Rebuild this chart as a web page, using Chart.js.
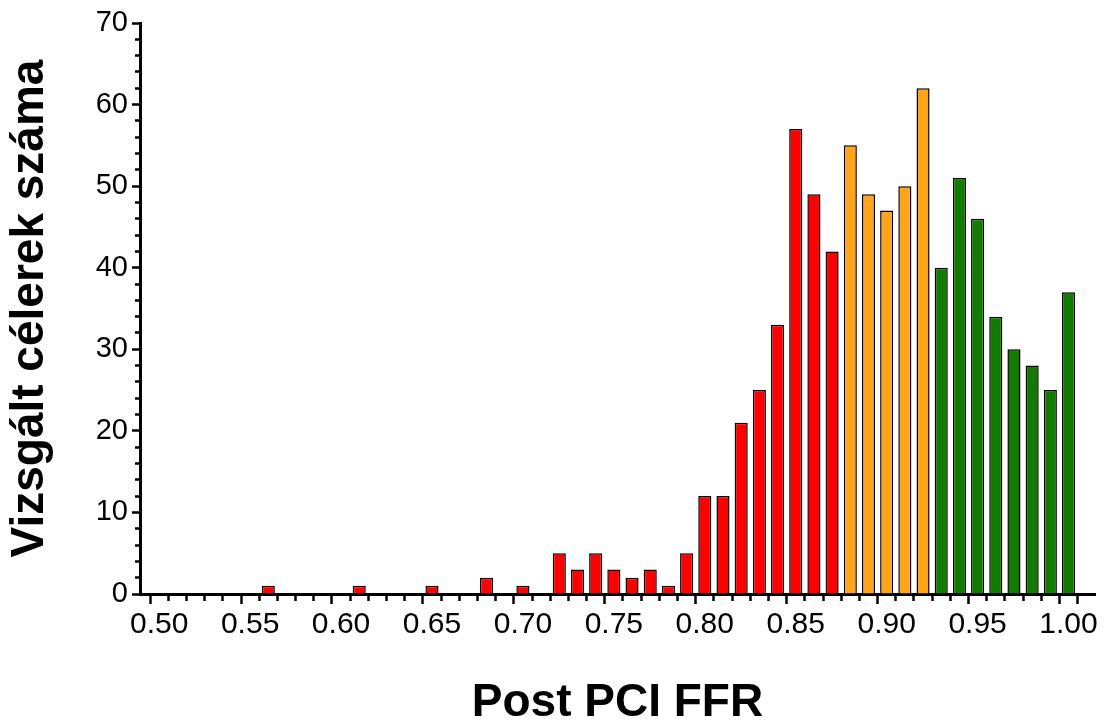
<!DOCTYPE html>
<html lang="hu">
<head>
    <meta charset="UTF-8">
    <title>Post PCI FFR</title>
    <script src="https://cdn.jsdelivr.net/npm/chart.js"></script>
    <style>
        html, body { margin: 0; padding: 0; background: #fff; }
        #chartContainer { width: 1110px; height: 728px; }
    </style>
</head>
<body>
    <div id="chartContainer">
        <canvas id="ffrChart" width="1110" height="728"></canvas>
    </div>

    <script>
        // FFR bins (x) and number of vessels per bin, grouped by zone
        const redFfr = [0.56, 0.61, 0.65, 0.68, 0.70, 0.72, 0.73, 0.74, 0.75, 0.76, 0.77, 0.78, 0.79,
                        0.80, 0.81, 0.82, 0.83, 0.84, 0.85, 0.86, 0.87];
        const redCounts = [1, 1, 1, 2, 1, 5, 3, 5, 3, 2, 3, 1, 5, 12, 12, 21, 25, 33, 57, 49, 42];

        const orangeFfr = [0.88, 0.89, 0.90, 0.91, 0.92];
        const orangeCounts = [55, 49, 47, 50, 62];

        const greenFfr = [0.93, 0.94, 0.95, 0.96, 0.97, 0.98, 0.99, 1.00];
        const greenCounts = [40, 51, 46, 34, 30, 28, 25, 37];

        // tick labels
        const xLabels = ['0.50', '0.55', '0.60', '0.65', '0.70', '0.75', '0.80', '0.85', '0.90', '0.95', '1.00'];
        const yLabels = ['0', '10', '20', '30', '40', '50', '60', '70'];

        const toPoints = (xs, ys) => xs.map((x, i) => ({ x: x, y: ys[i] }));

        // minor ticks every 0.01 on x, every 2 on y
        const xTickValues = [];
        for (let i = 50; i <= 100; i++) xTickValues.push(i / 100);
        const yTickValues = [];
        for (let i = 0; i <= 70; i += 2) yTickValues.push(i);

        const isMajorX = (v) => xLabels.includes(v.toFixed(2));
        const isMajorY = (v) => yLabels.includes(String(v));

        const font = "'Liberation Sans', Arial, sans-serif";

        const barStyle = {
            borderColor: '#000',
            borderWidth: 1.5,
            grouped: false,
            barPercentage: 0.72,
            categoryPercentage: 1
        };

        const ctx = document.getElementById('ffrChart').getContext('2d');

        new Chart(ctx, {
            type: 'bar',
            data: {
                datasets: [
                    Object.assign({ label: 'FFR < 0.88', data: toPoints(redFfr, redCounts), backgroundColor: '#ff0000' }, barStyle),
                    Object.assign({ label: '0.88 - 0.92', data: toPoints(orangeFfr, orangeCounts), backgroundColor: '#ffa41b' }, barStyle),
                    Object.assign({ label: 'FFR > 0.92', data: toPoints(greenFfr, greenCounts), backgroundColor: '#117c00' }, barStyle)
                ]
            },
            options: {
                responsive: false,
                animation: false,
                devicePixelRatio: 1,
                layout: { padding: { top: 23, right: 15, left: 0, bottom: 0 } },
                plugins: {
                    legend: { display: false },
                    tooltip: { enabled: false }
                },
                scales: {
                    x: {
                        type: 'linear',
                        min: 0.4946,
                        max: 1.0094,
                        afterBuildTicks: (scale) => {
                            scale.ticks = xTickValues.map(v => ({ value: v }));
                        },
                        afterFit: (scale) => { scale.height = 134; },
                        border: { display: true, color: '#000', width: 3 },
                        grid: {
                            drawOnChartArea: false,
                            drawTicks: true,
                            tickLength: 10,
                            tickWidth: 2.5,
                            tickColor: '#000',
                            // minor ticks: only the first 5px next to the axis
                            tickBorderDash: (c) => (!c.tick || isMajorX(c.tick.value)) ? [] : [5, 30]
                        },
                        ticks: {
                            autoSkip: false,
                            maxRotation: 0,
                            padding: 3,
                            color: '#000',
                            font: { family: font, size: 30 },
                            callback: (value) => isMajorX(value) ? value.toFixed(2) : ''
                        },
                        title: {
                            display: true,
                            text: 'Post PCI FFR',
                            color: '#000',
                            font: { family: font, size: 46, weight: 'bold' },
                            padding: { top: 0, bottom: -3 }
                        }
                    },
                    y: {
                        min: 0,
                        max: 70,
                        afterBuildTicks: (scale) => {
                            scale.ticks = yTickValues.map(v => ({ value: v }));
                        },
                        afterFit: (scale) => { scale.width = 140; },
                        border: { display: true, color: '#000', width: 3 },
                        grid: {
                            drawOnChartArea: false,
                            drawTicks: true,
                            tickLength: 8,
                            tickWidth: 2.5,
                            tickColor: '#000',
                            // left ticks are drawn from the outer end, so skip 3px first
                            tickBorderDash: (c) => (!c.tick || isMajorY(c.tick.value)) ? [] : [0, 3, 10, 10]
                        },
                        ticks: {
                            autoSkip: false,
                            padding: 4,
                            color: '#000',
                            font: { family: font, size: 29 },
                            callback: (value) => isMajorY(value) ? String(value) : ''
                        },
                        title: {
                            display: true,
                            text: 'Vizsgált célerek száma',
                            color: '#000',
                            font: { family: font, size: 46, weight: 'bold' },
                            padding: { top: 3, bottom: 0 }
                        }
                    }
                }
            }
        });
    </script>
</body>
</html>
